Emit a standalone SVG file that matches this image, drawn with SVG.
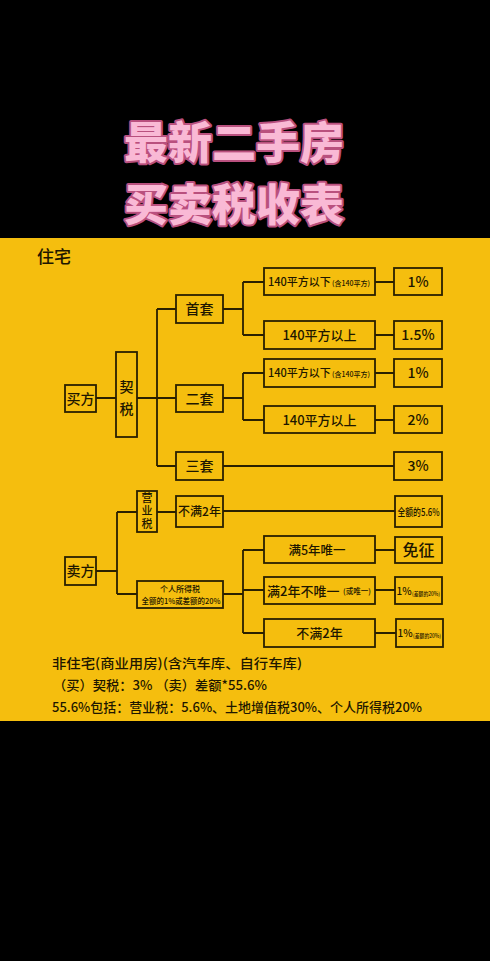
<svg xmlns="http://www.w3.org/2000/svg" width="490" height="961" viewBox="0 0 490 961">
<style>
.box{fill:#F5BE0E;stroke:#2a2000;stroke-width:1.8}
.ln{stroke:#2a2000;stroke-width:1.8;fill:none}
.t{font-family:"Noto Sans CJK SC","Liberation Sans",sans-serif;fill:#1e1700;font-weight:500}
.m{text-anchor:middle}
.v{writing-mode:vertical-rl}
.title{font-family:"Noto Sans CJK SC",sans-serif;font-weight:900;font-size:44px;fill:#F9B9D5;stroke:#B9507E;stroke-width:4;paint-order:stroke;stroke-linejoin:round;text-anchor:middle}
</style>
<rect x="0" y="0" width="490" height="961" fill="#000"/>
<g id="title">
<text class="title" x="234" y="159">最新二手房</text>
<text class="title" x="234" y="221">买卖税收表</text>
</g>
<rect id="panel" x="0" y="238" width="490" height="483" fill="#F5BE0E"/>
<text class="t" x="37" y="263" font-size="17">住宅</text>
<g id="connectors">
<path class="ln" d="M96 398H116M137 398H176M157 309V466M157 309H176M157 466H394"/>
<path class="ln" d="M223 309H243M243 282V335M243 282H264M243 335H264M375 282H394M375 335H394"/>
<path class="ln" d="M223 398H243M243 373V420M243 373H264M243 420H264M375 373H394M375 420H394"/>
<path class="ln" d="M96 571H117M117 512V594M117 512H137M117 594H137M157 512H176M223 511H395"/>
<path class="ln" d="M223 594H243M243 550V633M243 550H264M243 590H264M243 633H264M375 550H395M375 590H395M375 633H396"/>
</g>
<g id="n-buyer"><rect class="box" x="65" y="385" width="31" height="27"/><text class="t m" x="80.5" y="403.5" font-size="14">买方</text></g>
<g id="n-qishui"><rect class="box" x="116" y="352" width="21" height="85"/><text class="t v" x="126.5" y="380" font-size="14" letter-spacing="8">契税</text></g>
<g id="n-first"><rect class="box" x="176" y="295" width="47" height="28"/><text class="t m" x="199.5" y="314" font-size="14">首套</text></g>
<g id="n-second"><rect class="box" x="176" y="385" width="47" height="27"/><text class="t m" x="199.5" y="403.5" font-size="14">二套</text></g>
<g id="n-third"><rect class="box" x="176" y="452" width="47" height="28"/><text class="t m" x="199.5" y="471" font-size="14">三套</text></g>
<g id="n-a1"><rect class="box" x="264" y="268" width="111" height="27"/><text class="t" x="268" y="286" font-size="11">140平方以下</text><text class="t" x="332" y="286" font-size="7">(含140平方)</text></g>
<g id="n-a2"><rect class="box" x="264" y="321" width="111" height="28"/><text class="t m" x="319.5" y="340" font-size="13">140平方以上</text></g>
<g id="n-a3"><rect class="box" x="264" y="359" width="111" height="28"/><text class="t" x="268" y="377" font-size="11">140平方以下</text><text class="t" x="332" y="377" font-size="7">(含140平方)</text></g>
<g id="n-a4"><rect class="box" x="264" y="406" width="111" height="27"/><text class="t m" x="319.5" y="424.5" font-size="13">140平方以上</text></g>
<g id="n-r1"><rect class="box" x="394" y="268" width="48" height="27"/><text class="t m" x="418" y="286.5" font-size="14">1%</text></g>
<g id="n-r2"><rect class="box" x="394" y="321" width="48" height="28"/><text class="t m" x="418" y="340" font-size="14">1.5%</text></g>
<g id="n-r3"><rect class="box" x="394" y="359" width="48" height="28"/><text class="t m" x="418" y="378" font-size="14">1%</text></g>
<g id="n-r4"><rect class="box" x="394" y="406" width="48" height="27"/><text class="t m" x="418" y="424.5" font-size="14">2%</text></g>
<g id="n-r5"><rect class="box" x="394" y="452" width="48" height="28"/><text class="t m" x="418" y="471" font-size="14">3%</text></g>
<g id="n-seller"><rect class="box" x="65" y="557" width="31" height="28"/><text class="t m" x="80.5" y="576" font-size="14">卖方</text></g>
<g id="n-yingye"><rect class="box" x="137" y="491" width="20" height="41"/><text class="t v" x="147" y="492.5" font-size="11" letter-spacing="2">营业税</text></g>
<g id="n-geren"><rect class="box" x="137" y="581" width="86" height="27"/><text class="t m" x="180" y="592" font-size="8">个人所得税</text><text class="t m" x="181" y="604" font-size="8" textLength="79" lengthAdjust="spacingAndGlyphs">全额的1%或差额的20%</text></g>
<g id="n-bm2a"><rect class="box" x="176" y="496" width="47" height="31"/><text class="t m" x="199.5" y="516" font-size="12">不满2年</text></g>
<g id="n-s1"><rect class="box" x="264" y="536" width="111" height="27"/><text class="t m" x="317" y="554.5" font-size="12.5">满5年唯一</text></g>
<g id="n-s2"><rect class="box" x="264" y="577" width="111" height="27"/><text class="t" x="267" y="595.5" font-size="13">满2年不唯一</text><text class="t" x="343" y="594" font-size="7.5">(或唯一)</text></g>
<g id="n-s3"><rect class="box" x="264" y="619" width="111" height="28"/><text class="t m" x="319.5" y="638" font-size="13">不满2年</text></g>
<g id="n-v1"><rect class="box" x="395" y="496" width="47" height="31"/><text class="t" x="397.5" y="515.5" font-size="10.5" textLength="42" lengthAdjust="spacingAndGlyphs">全额的5.6%</text></g>
<g id="n-v2"><rect class="box" x="395" y="537" width="47" height="26"/><text class="t m" x="418.5" y="556" font-size="16">免征</text></g>
<g id="n-v3"><rect class="box" x="395" y="577" width="47" height="27"/><text class="t" x="396.5" y="595" font-size="10">1%</text><text class="t" x="412" y="596" font-size="5.5" textLength="28" lengthAdjust="spacingAndGlyphs">(差额的20%)</text></g>
<g id="n-v4"><rect class="box" x="396" y="619" width="47" height="28"/><text class="t" x="397.5" y="637" font-size="10">1%</text><text class="t" x="413" y="638" font-size="5.5" textLength="28" lengthAdjust="spacingAndGlyphs">(差额的20%)</text></g>
<g id="notes">
<text class="t" x="52" y="668" font-size="13" textLength="250" lengthAdjust="spacingAndGlyphs">非住宅(商业用房)(含汽车库、自行车库)</text>
<text class="t" x="53" y="690" font-size="13" textLength="214" lengthAdjust="spacingAndGlyphs">（买）契税：3% （卖）差额*55.6%</text>
<text class="t" x="52" y="712" font-size="13" textLength="370" lengthAdjust="spacingAndGlyphs">55.6%包括：营业税：5.6%、土地增值税30%、个人所得税20%</text>
</g>
</svg>
